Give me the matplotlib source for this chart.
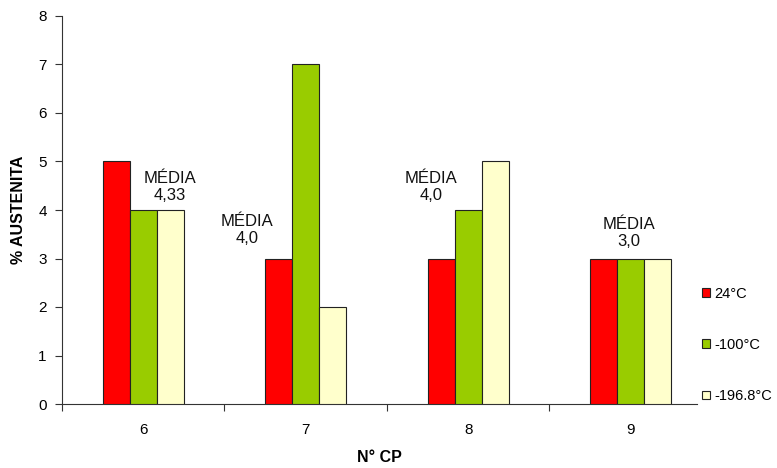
import numpy as np
import matplotlib.pyplot as plt
from matplotlib.ticker import FixedLocator

plt.rcParams['font.family'] = ['Liberation Sans', 'DejaVu Sans']

# data
categories = ['6', '7', '8', '9']
series_names = ['24°C', '-100°C', '-196.8°C']
vals_24 = [5, 3, 3, 3]
vals_100 = [4, 7, 4, 3]
vals_196 = [4, 2, 5, 3]
colors = ['#FF0000', '#99CC00', '#FFFFCC']

# average labels
media_x = [0.165, 0.64, 1.77, 2.99]
media_y = [4.47, 3.59, 4.47, 3.52]
media_txt = ['MÉDIA\n4,33', 'MÉDIA\n4,0', 'MÉDIA\n4,0', 'MÉDIA\n3,0']

fig = plt.figure(figsize=(7.77, 4.68), dpi=100)
ax = fig.add_axes([62/777, 64/468, 635/777, 388/468])

x = np.arange(len(categories))
w = 1/6
for k, (vals, name, c) in enumerate(zip([vals_24, vals_100, vals_196], series_names, colors)):
    ax.bar(x + (k - 1)*w, vals, width=w, color=c, edgecolor='#222222',
           linewidth=0.8, label=name, zorder=3)

for mx, my, t in zip(media_x, media_y, media_txt):
    ax.text(mx, my, t, ha='center', va='center', fontsize=12,
            linespacing=1.15, color='#111111')

ax.set_xlim(-0.5, 3.408)
ax.set_ylim(0, 8)
ax.set_yticks(range(0, 9))
ax.set_xticks(x)
ax.set_xticklabels(categories)
ax.xaxis.set_minor_locator(FixedLocator([-0.5, 0.5, 1.5, 2.5]))
ax.tick_params(axis='x', which='major', length=0, pad=14, labelsize=11)
ax.tick_params(axis='x', which='minor', length=5, width=0.8, color='#333333')
ax.tick_params(axis='y', length=5, width=0.8, color='#333333', labelsize=11, pad=6)

for s in ['top', 'right']:
    ax.spines[s].set_visible(False)
for s in ['left', 'bottom']:
    ax.spines[s].set_color('#333333')
    ax.spines[s].set_linewidth(0.8)

ax.set_ylabel('% AUSTENITA', fontsize=11.5, fontweight='bold', labelpad=9)
ax.set_xlabel('N° CP', fontsize=11.5, fontweight='bold', labelpad=9)

fig.legend(loc='center left', bbox_to_anchor=(702/777, (468-345)/468),
           frameon=False, fontsize=10.5, handlelength=0.55, handleheight=0.55,
           handletextpad=0.3, labelspacing=2.55, borderpad=0, borderaxespad=0)

fig.savefig('out.png', dpi=100)
